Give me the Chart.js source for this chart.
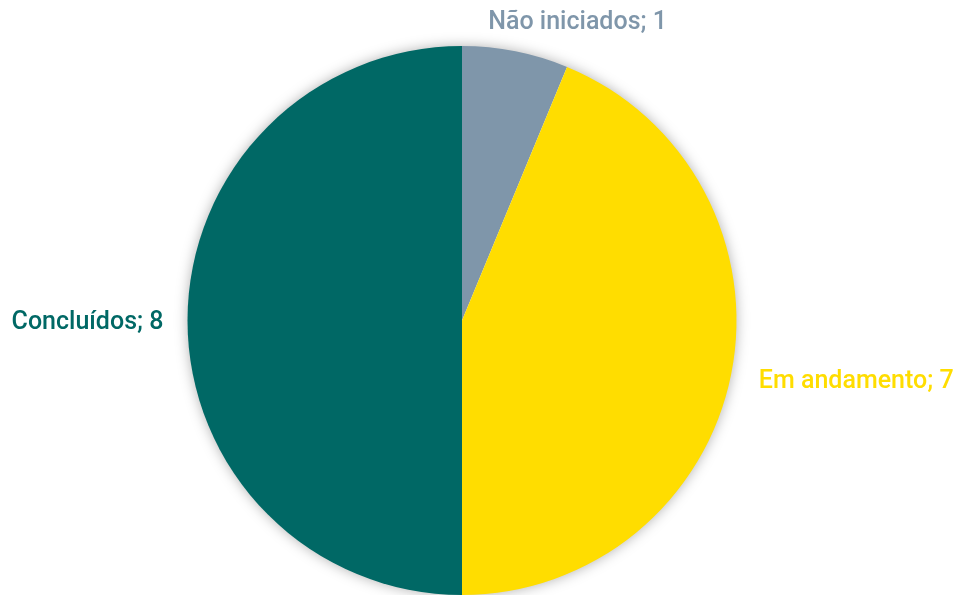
<!DOCTYPE html>
<html>
<head>
<meta charset="utf-8">
<script src="https://cdn.jsdelivr.net/npm/chart.js@4"></script>
<style>
  html, body { margin: 0; padding: 0; background: #ffffff; }
  #wrap { width: 958px; height: 595px; }
</style>
</head>
<body>
<div id="wrap"><canvas id="myChart" width="958" height="595"></canvas></div>
<script>
const categories = ['Não iniciados', 'Em andamento', 'Concluídos'];
const values = [1, 7, 8];
const colors = ['#7f96aa', '#ffdd00', '#006865'];

// nudges for the outside labels, relative to the slice's outer mid point
const labelNudge = [[62, -29], [125, 8], [-100, 2]];

// soft shadow only round the outer rim, drawn under the slices
const shadowPlugin = {
  id: 'pieShadow',
  beforeDatasetsDraw(chart) {
    const arc = chart.getDatasetMeta(0).data[0];
    if (!arc) return;
    const p = arc.getProps(['x', 'y', 'outerRadius'], true);
    const ctx = chart.ctx;
    ctx.save();
    ctx.shadowColor = 'rgba(0,0,0,0.35)';
    ctx.shadowBlur = 14;
    ctx.fillStyle = '#ffffff';
    ctx.beginPath();
    ctx.arc(p.x, p.y, p.outerRadius - 1, 0, Math.PI * 2);
    ctx.fill();
    ctx.restore();
  }
};

const labelPlugin = {
  id: 'outLabels',
  afterDraw(chart) {
    const ctx = chart.ctx;
    const meta = chart.getDatasetMeta(0);
    ctx.save();
    ctx.font = '500 25px Roboto';
    ctx.textAlign = 'center';
    ctx.textBaseline = 'middle';
    meta.data.forEach((arc, i) => {
      const p = arc.getProps(['x', 'y', 'startAngle', 'endAngle', 'outerRadius'], true);
      const mid = (p.startAngle + p.endAngle) / 2;
      const x = p.x + Math.cos(mid) * p.outerRadius + labelNudge[i][0];
      const y = p.y + Math.sin(mid) * p.outerRadius + labelNudge[i][1];
      ctx.fillStyle = colors[i];
      ctx.fillText(categories[i] + '; ' + values[i], x, y);
    });
    ctx.restore();
  }
};

const ctx = document.getElementById('myChart').getContext('2d');
const myChart = new Chart(ctx, {
  type: 'pie',
  data: {
    labels: categories,
    datasets: [{
      data: values,
      backgroundColor: colors,
      borderWidth: 0
    }]
  },
  options: {
    responsive: false,
    animation: false,
    layout: { padding: { top: 46, bottom: 0, left: 0, right: 34 } },
    plugins: {
      legend: { display: false },
      tooltip: { enabled: false }
    }
  },
  plugins: [shadowPlugin, labelPlugin]
});
</script>
</body>
</html>
